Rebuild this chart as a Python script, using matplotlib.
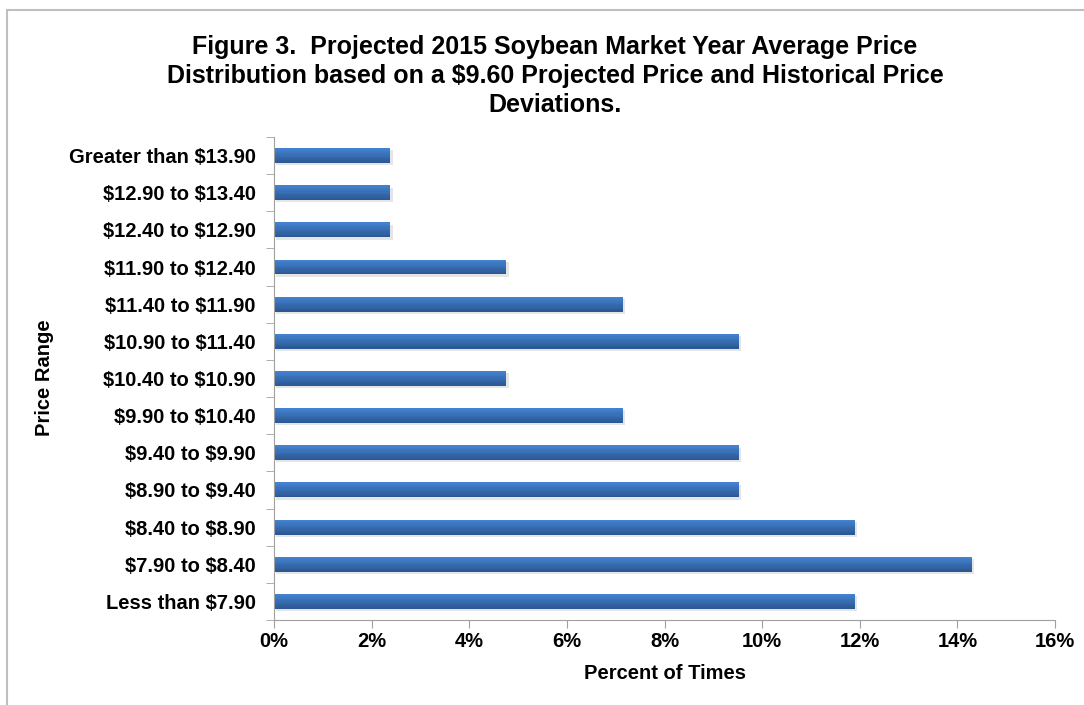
import numpy as np
import matplotlib.pyplot as plt
from matplotlib.patches import Rectangle
from matplotlib.colors import to_rgb

plt.rcParams['font.family'] = ['Liberation Sans', 'DejaVu Sans']
plt.rcParams['font.weight'] = 'bold'
plt.rcParams['text.parse_math'] = False

# categories bottom to top
price_ranges = ["Less than $7.90", "$7.90 to $8.40", "$8.40 to $8.90", "$8.90 to $9.40",
                "$9.40 to $9.90", "$9.90 to $10.40", "$10.40 to $10.90", "$10.90 to $11.40",
                "$11.40 to $11.90", "$11.90 to $12.40", "$12.40 to $12.90", "$12.90 to $13.40",
                "Greater than $13.90"]
pct_times = [11.90, 14.29, 11.90, 9.52, 9.52, 7.14, 4.76, 9.52, 7.14, 4.76, 2.38, 2.38, 2.38]
x_ticks = [0, 2, 4, 6, 8, 10, 12, 14, 16]

fig = plt.figure(figsize=(10.84, 7.05), dpi=100)
ax = fig.add_axes([0.2528, 0.1206, 0.7205, 0.6851])

# chart frame
fig.patches.append(Rectangle((7/1084, -0.05), 1.1, (705-10)/705 + 0.05, transform=fig.transFigure,
                             fill=False, edgecolor='#BFBFBF', linewidth=1.5))

y = np.arange(len(price_ranges))
h = 0.4
# soft shadow
ax.barh(y - 0.06, pct_times, height=h, left=0.05, color='#000000', alpha=0.10, zorder=1)
# main bar drawn as thin bands, light at the top and darker at the bottom
top_c = np.array(to_rgb('#4482D0'))
bot_c = np.array(to_rgb('#2B5894'))
n = 12
for k in range(n):
    t = k / (n - 1)
    c = top_c * (1 - t) + bot_c * t
    ax.barh(y + h/2 - (k + 0.5) * h / n, pct_times, height=h / n * 1.05, color=c,
            linewidth=0, zorder=2)

ax.set_xlim(0, 16)
ax.set_ylim(-0.5, len(price_ranges) - 0.5)
ax.set_xticks(x_ticks)
ax.set_xticklabels([f"{v}%" for v in x_ticks], fontsize=14.5, fontweight='bold')
ax.set_yticks(y)
ax.set_yticklabels(price_ranges, fontsize=14.5, fontweight='bold')
ax.set_yticks(np.arange(len(price_ranges) + 1) - 0.5, minor=True)
ax.tick_params(axis='y', which='major', length=0, pad=13)
ax.tick_params(axis='y', which='minor', length=6, color='#A0A0A0')
ax.tick_params(axis='x', length=6, color='#A0A0A0', pad=3)

for s in ['top', 'right']:
    ax.spines[s].set_visible(False)
for s in ['left', 'bottom']:
    ax.spines[s].set_color('#A0A0A0')

ax.set_xlabel("Percent of Times", fontsize=14.5, fontweight='bold', labelpad=9)
fig.text(45/1084, 1 - 378/705, "Price Range", rotation=90, fontsize=14.5, fontweight='bold',
         ha='center', va='center')

fig.text(555/1084, 1 - 76/705,
         "Figure 3.  Projected 2015 Soybean Market Year Average Price\n"
         "Distribution based on a $9.60 Projected Price and Historical Price\n"
         "Deviations.",
         ha='center', va='center', fontsize=18, fontweight='bold', linespacing=1.24)

fig.savefig("out.png", dpi=100)
